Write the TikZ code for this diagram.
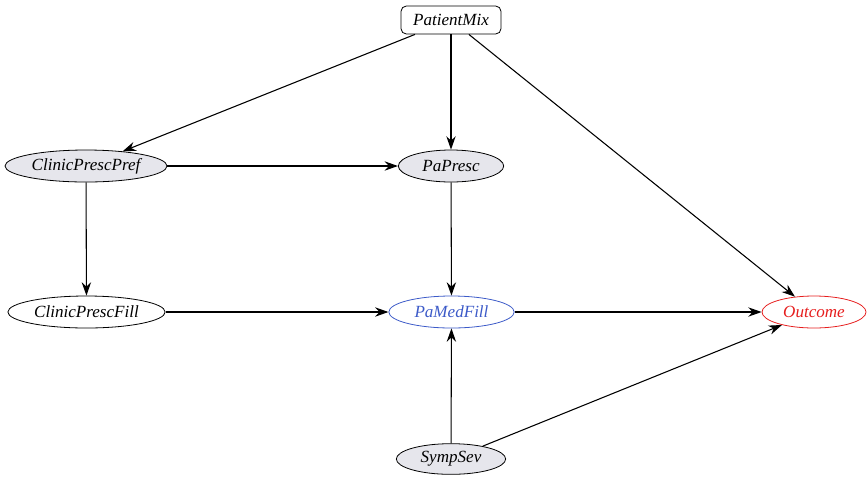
\documentclass[tikz,border=0pt]{standalone}
\usepackage{fontspec}
\setmainfont{Liberation Serif}
\usetikzlibrary{shapes.geometric,arrows.meta}
\definecolor{nodegray}{RGB}{230,230,236}
\definecolor{medblue}{RGB}{60,90,200}
\definecolor{outred}{RGB}{230,30,30}
\begin{document}
\begin{tikzpicture}[x=0.75pt,y=-0.75pt,
  every node/.style={font=\fontsize{12.8}{14}\selectfont\itshape, inner sep=0pt},
  oval/.style={ellipse, draw, line width=0.6pt, minimum height=24pt},
  grayoval/.style={oval, fill=nodegray},
  box/.style={rectangle, rounded corners=4pt, draw, line width=0.6pt, minimum height=21pt},
  link/.style={line width=0.8pt, -{Stealth[length=10pt,width=7pt]}}]
\useasboundingbox (0,0) rectangle (867,476);
\node[box, minimum width=75pt] (mix) at (451,20) {PatientMix};
\node[grayoval, minimum width=121.5pt] (pref) at (86,166) {ClinicPrescPref};
\node[grayoval, minimum width=79pt] (presc) at (451,166) {PaPresc};
\node[oval, minimum width=118pt] (fill) at (86.5,312) {ClinicPrescFill};
\node[oval, draw=medblue, text=medblue, minimum width=94pt] (med) at (451.5,312) {PaMedFill};
\node[oval, draw=outred, text=outred, minimum width=78pt] (out) at (814,312) {Outcome};
\node[grayoval, minimum width=82pt, minimum height=23pt] (sev) at (451,459) {SympSev};
\draw[link] (mix) -- (pref);
\draw[link] (mix) -- (presc);
\draw[link] (mix) -- (out);
\draw[link] (pref) -- (presc);
\draw[link] (pref) -- (fill);
\draw[link] (presc) -- (med);
\draw[link] (fill) -- (med);
\draw[link] (med) -- (out);
\draw[link] (sev) -- (med);
\draw[link] (sev) -- (out);
\end{tikzpicture}
\end{document}
